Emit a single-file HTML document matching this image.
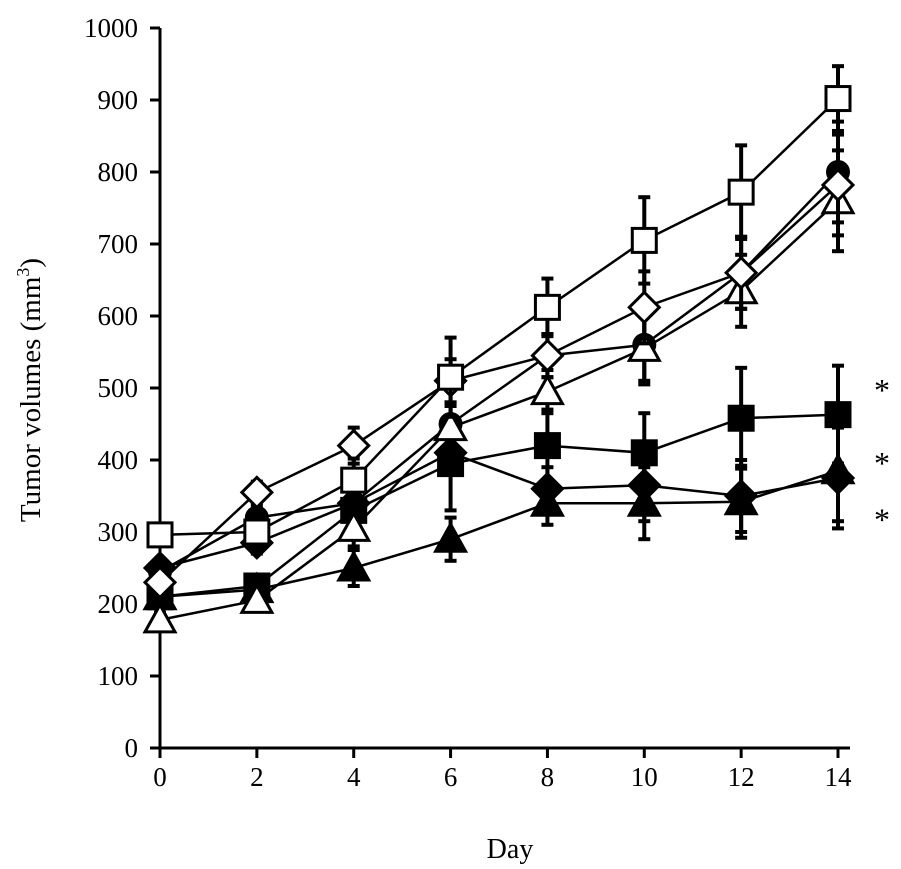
<!DOCTYPE html>
<html><head><meta charset="utf-8"><style>
html,body{margin:0;padding:0;background:#fff;}
svg{display:block;font-family:"Liberation Serif",serif;}
</style></head><body>
<svg id="chart" width="901" height="869" viewBox="0 0 901 869"></svg>
<script>
const days = [0,2,4,6,8,10,12,14];
const yTicks = [0,100,200,300,400,500,600,700,800,900,1000];
const xTicks = [0,2,4,6,8,10,12,14];
const openSquare = [296,300,372,515,612,705,772,902];
const filledCircle = [245,320,340,450,545,560,660,800];
const openDiamond = [230,355,420,510,545,612,660,782];
const openTriangle = [178,205,305,445,495,555,635,760];
const filledSquare = [210,225,330,395,420,410,458,463];
const filledDiamond = [250,285,340,410,360,365,350,375];
const filledTriangle = [210,220,250,290,340,340,342,385];
const errOpenSquare = [10,20,30,55,40,60,65,45];
const errFilledSquare = [10,15,20,65,50,55,70,68];
const errOther = [10,15,25,30,30,50,50,70];
const asterY = [504,403,324];

const NS='http://www.w3.org/2000/svg';
const svg=document.getElementById('chart');
function X(d){return 160+(d/14)*678;}
function Y(v){return 748-v*0.72;}
function mk(tag,attrs,parent){const e=document.createElementNS(NS,tag);for(const k in attrs)e.setAttribute(k,attrs[k]);(parent||svg).appendChild(e);return e;}

const axes=mk('g',{stroke:'#000','stroke-width':3});


mk('line',{x1:160,y1:Y(0),x2:160,y2:Y(1000)},axes);
mk('line',{x1:160,y1:Y(0),x2:850,y2:Y(0)},axes);
yTicks.forEach(t=>{
  mk('line',{x1:150,y1:Y(t),x2:160,y2:Y(t)},axes);
  const tx=mk('text',{x:138,y:Y(t)+9,'text-anchor':'end','font-size':27,fill:'#000'});
  tx.textContent=t;
  
  
});
xTicks.forEach(t=>{
  mk('line',{x1:X(t),y1:Y(0),x2:X(t),y2:Y(0)+10},axes);
  const tx=mk('text',{x:X(t),y:Y(0)+38,'text-anchor':'middle','font-size':27,fill:'#000'});
  tx.textContent=t;
  
  
});
const xl=mk('text',{x:510,y:858,'text-anchor':'middle','font-size':28,fill:'#000'});
xl.textContent='Day';


const yl=mk('text',{x:0,y:0,'text-anchor':'middle','font-size':29,fill:'#000',transform:'translate(40,390) rotate(-90)'});
yl.innerHTML='Tumor volumes  (mm<tspan dy="-11" font-size="18">3</tspan><tspan dy="11">)</tspan>';



function marker(g,type,x,y){
  const s=12;
  if(type==='osq'||type==='fsq') mk('rect',{x:x-s,y:y-s,width:2*s,height:2*s,fill:type==='osq'?'#fff':'#000',stroke:'#000','stroke-width':3},g);
  else if(type==='fci') mk('circle',{cx:x,cy:y,r:12,fill:'#000'},g);
  else if(type==='odi'||type==='fdi') mk('polygon',{points:`${x},${y-15} ${x+15},${y} ${x},${y+15} ${x-15},${y}`,fill:type==='odi'?'#fff':'#000',stroke:'#000','stroke-width':3},g);
  else mk('polygon',{points:`${x},${y-15} ${x+15},${y+12} ${x-15},${y+12}`,fill:type==='otr'?'#fff':'#000',stroke:'#000','stroke-width':3},g);
}
const series=[
  ['filled-triangle-series',filledTriangle,'ftr',errOther],
  ['filled-diamond-series',filledDiamond,'fdi',errOther],
  ['filled-square-series',filledSquare,'fsq',errFilledSquare],
  ['filled-circle-series',filledCircle,'fci',errOther],
  ['open-triangle-series',openTriangle,'otr',errOther],
  ['open-diamond-series',openDiamond,'odi',errOther],
  ['open-square-series',openSquare,'osq',errOpenSquare]
];
series.forEach(([name,vals,type,err])=>{
  const g=mk('g',{});
  
  
  vals.forEach((v,i)=>{
    const x=X(days[i]);
    mk('line',{x1:x,y1:Y(v+err[i]),x2:x,y2:Y(v-err[i]),stroke:'#000','stroke-width':4},g);
    mk('line',{x1:x-6,y1:Y(v+err[i]),x2:x+6,y2:Y(v+err[i]),stroke:'#000','stroke-width':4},g);
    mk('line',{x1:x-6,y1:Y(v-err[i]),x2:x+6,y2:Y(v-err[i]),stroke:'#000','stroke-width':4},g);
  });
  mk('polyline',{points:vals.map((v,i)=>X(days[i])+','+Y(v)).join(' '),fill:'none',stroke:'#000','stroke-width':2.5},g);
  vals.forEach((v,i)=>marker(g,type,X(days[i]),Y(v)));
});
asterY.forEach(v=>{
  const t=mk('text',{x:882,y:Y(v)+16,'text-anchor':'middle','font-size':32,fill:'#000'});
  t.textContent='*';
  
  
});
</script>
</body></html>
